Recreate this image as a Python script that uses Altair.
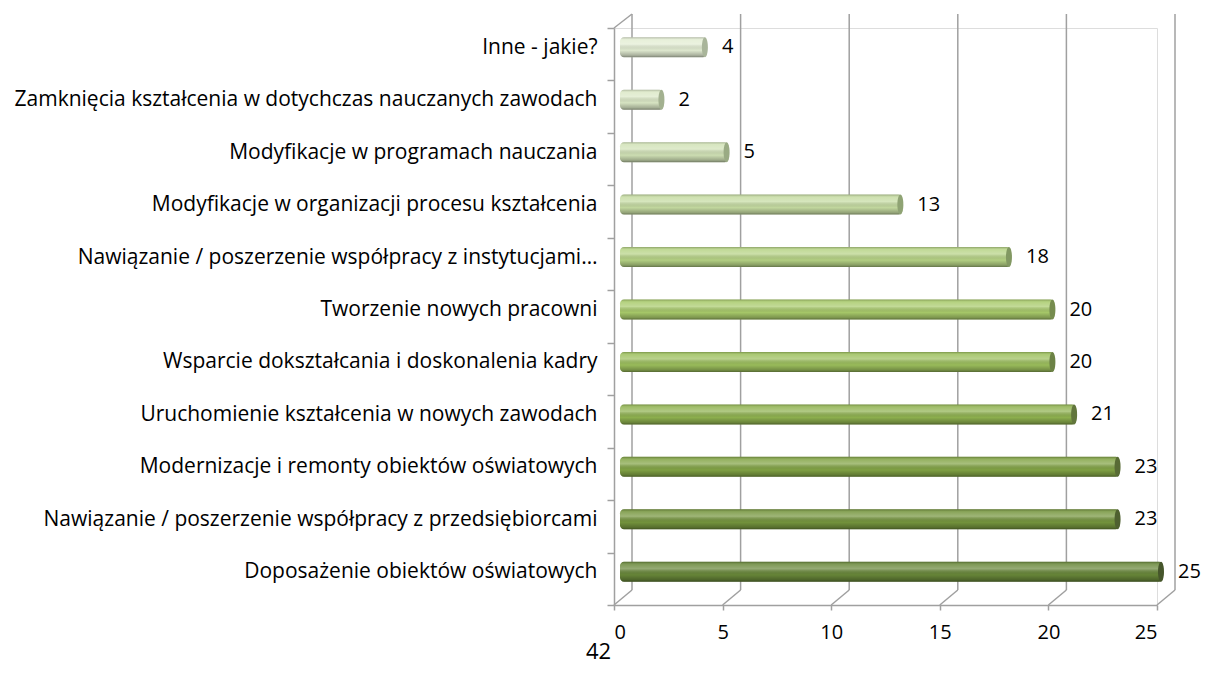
import altair as alt
import pandas as pd

categories = [
    "Inne - jakie?",
    "Zamknięcia kształcenia w dotychczas nauczanych zawodach",
    "Modyfikacje w programach nauczania",
    "Modyfikacje w organizacji procesu kształcenia",
    "Nawiązanie / poszerzenie współpracy z instytucjami…",
    "Tworzenie nowych pracowni",
    "Wsparcie dokształcania i doskonalenia kadry",
    "Uruchomienie kształcenia w nowych zawodach",
    "Modernizacje i remonty obiektów oświatowych",
    "Nawiązanie / poszerzenie współpracy z przedsiębiorcami",
    "Doposażenie obiektów oświatowych",
]
values = [4, 2, 5, 13, 18, 20, 20, 21, 23, 23, 25]
bar_colors = [
    "#e3edd3", "#dbe8c6", "#d1e2b6", "#c5dba1", "#b6d385", "#a8ca6a",
    "#9cbf5c", "#8fb24f", "#82a445", "#75953d", "#688739",
]
cap_colors = [
    "#a9b59a", "#a3b190", "#9aab84", "#8fa374", "#829862", "#768c4f",
    "#6c8246", "#62763d", "#586b35", "#4f6030", "#46562b",
]
ticks = [0, 5, 10, 15, 20, 25]

df = pd.DataFrame({"cat": categories, "val": values, "col": bar_colors, "cap": cap_colors})
tdf = pd.DataFrame({"t": ticks})

FONT = "Open Sans"
xs = alt.Scale(domain=[0, 25], nice=False)
ys = alt.Scale(domain=categories, paddingInner=0, paddingOuter=0)

grid_color = "#a0a0a0"

back = alt.Chart(tdf).mark_rule(color=grid_color, strokeWidth=1.5, xOffset=18, x2Offset=18).encode(
    x=alt.X("t:Q", scale=xs,
            axis=alt.Axis(values=ticks, grid=False, domainColor=grid_color, domainWidth=1.5,
                          tickColor=grid_color, tickSize=5, tickWidth=1.5,
                          labelFont=FONT, labelFontSize=20, labelColor="#000000", labelPadding=12,
                          title="42", titleFont=FONT, titleFontSize=22, titleFontWeight="normal",
                          titleColor="#000000", titleAlign="center", titleBaseline="middle",
                          titleX=-16, titleY=46)),
    y=alt.value(-14),
    y2=alt.value(562),
)
floor = alt.Chart(tdf).mark_rule(color=grid_color, strokeWidth=1.5, x2Offset=18).encode(
    x=alt.X("t:Q", scale=xs),
    x2="t:Q",
    y=alt.value(577),
    y2=alt.value(562),
)
corner = alt.Chart(tdf).transform_filter("datum.t == 0").mark_rule(
    color=grid_color, strokeWidth=1.5, x2Offset=18).encode(
    x=alt.X("t:Q", scale=xs),
    x2="t:Q",
    y=alt.value(0),
    y2=alt.value(-14),
)

yenc = alt.Y("cat:N", scale=ys, sort=categories,
             axis=alt.Axis(title=None, labelFont=FONT, labelFontSize=21, labelColor="#000000",
                           labelLimit=0, labelPadding=10, labelOffset=-7,
                           tickBand="extent", tickSize=7, tickColor=grid_color, tickWidth=1.5,
                           domainColor=grid_color, domainWidth=1.5))

bars = alt.Chart(df).mark_bar(height=20, yOffset=-7, xOffset=6, x2Offset=6, cornerRadius=4).encode(
    x=alt.X("val:Q", scale=xs),
    x2=alt.datum(0),
    y=yenc,
    color=alt.Color("col:N", scale=None),
)

shade = alt.Chart(df).mark_bar(
    height=20, yOffset=-7, xOffset=6, x2Offset=6, cornerRadius=4,
    fill=alt.Gradient(
        gradient="linear", x1=0, y1=0, x2=0, y2=1,
        stops=[
            alt.GradientStop(offset=0, color="rgba(0,0,0,0.22)"),
            alt.GradientStop(offset=0.12, color="rgba(255,255,255,0.15)"),
            alt.GradientStop(offset=0.35, color="rgba(255,255,255,0.30)"),
            alt.GradientStop(offset=0.65, color="rgba(0,0,0,0.02)"),
            alt.GradientStop(offset=0.9, color="rgba(0,0,0,0.25)"),
            alt.GradientStop(offset=1, color="rgba(0,0,0,0.45)"),
        ],
    ),
).encode(
    x=alt.X("val:Q", scale=xs),
    x2=alt.datum(0),
    y=alt.Y("cat:N", scale=ys, sort=categories),
)

caps = alt.Chart(df).mark_point(
    shape="M0,-1 A0.3,1 0 1,1 0,1 A0.3,1 0 1,1 0,-1 Z",
    size=400, filled=True, opacity=1, yOffset=-7, xOffset=4,
).encode(
    x=alt.X("val:Q", scale=xs),
    y=alt.Y("cat:N", scale=ys, sort=categories),
    color=alt.Color("cap:N", scale=None),
)

labels = alt.Chart(df).mark_text(align="left", baseline="middle", dx=21, dy=-7,
                                  font=FONT, fontSize=20, color="#000000").encode(
    x=alt.X("val:Q", scale=xs),
    y=alt.Y("cat:N", scale=ys, sort=categories),
    text="val:Q",
)

chart = alt.layer(back, floor, corner, bars, shade, caps, labels).properties(
    width=543, height=577,
    autosize=alt.AutoSizeParams(type="none"),
    padding={"left": 606, "top": 20, "right": 44, "bottom": 60},
).configure_view(stroke=None).configure(background="#ffffff")

chart.save("out.html", embed_options={"renderer": "svg", "actions": False})
